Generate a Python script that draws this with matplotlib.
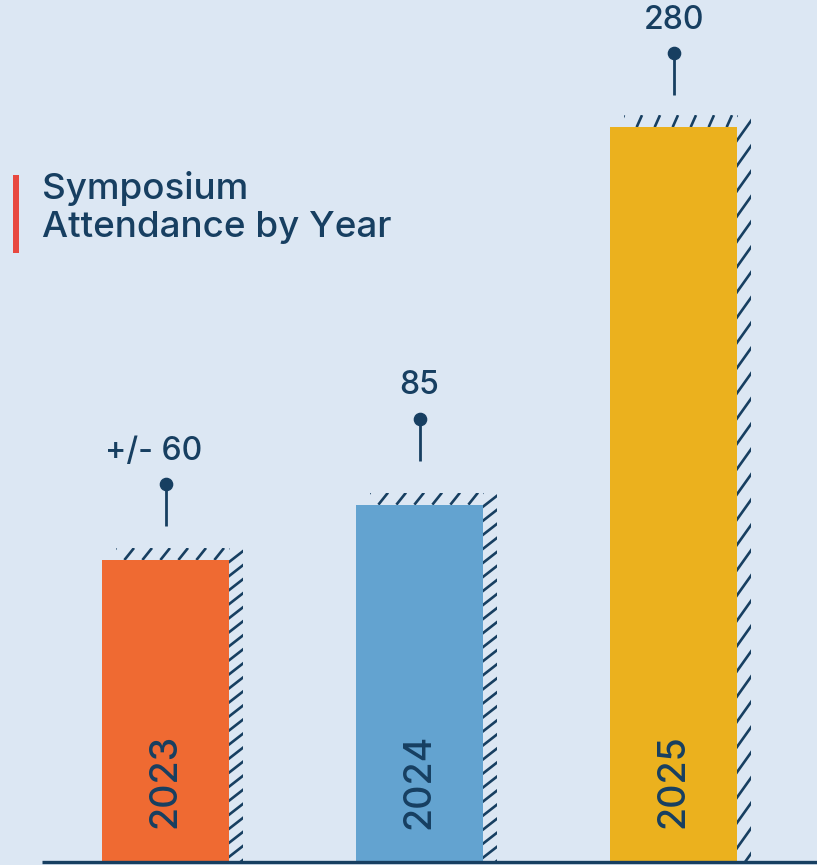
import matplotlib
matplotlib.use("Agg")
import numpy as np
import matplotlib.pyplot as plt
from matplotlib.patches import Rectangle
from matplotlib.collections import LineCollection
from matplotlib.transforms import IdentityTransform

# ---- data ----
years = ["2023", "2024", "2025"]
value_labels = ["+/- 60", "85", "280"]
# bar lengths as drawn in the picture (relative units, 2023 bar = 60)
bar_heights = [60, 71, 146]
bar_colors = ["#ef6a32", "#63a3d0", "#ebb11e"]

# ---- style ----
NAVY = "#173f61"
BG = "#dce7f3"
RED = "#e8483f"
annot_lift_px = [0, 10, -2]      # small per-label vertical nudges
label_shift_px = [-12, 0, 0]     # small per-label horizontal nudges
hatch_stretch = [1.0, 1.0, 1.8]  # vertical stretch of the shadow hatch

plt.rcParams["font.family"] = ["Inter", "DejaVu Sans"]

W, H = 817, 865
fig = plt.figure(figsize=(W / 100, H / 100), dpi=100, facecolor=BG)
ax = fig.add_axes([0, 0, 1, 1])
ax.set_facecolor(BG)

px_per_x = 254.0
px_per_y = 302.0 / 60.0
x0_px = 165.5
base_px = 3.0
ax.set_xlim(-x0_px / px_per_x, (W - x0_px) / px_per_x)
ax.set_ylim(-base_px / px_per_y, (H - base_px) / px_per_y)
ax.axis("off")

xs = list(range(len(years)))
width = 0.5
sh_dx, sh_dy = 14, 12  # shadow offset in px


def hatch_rect(x0, y0, x1, y1, spacing, slope, lw=1.9):
    """Diagonal hatch lines inside a pixel rectangle (display coords)."""
    clip = Rectangle((x0, y0), x1 - x0, y1 - y0, transform=IdentityTransform(),
                     facecolor="none", edgecolor="none")
    ax.add_patch(clip)
    h = y1 - y0
    start = x0 - h / slope - spacing
    segs = []
    for xs0 in np.arange(start, x1 + spacing, spacing):
        segs.append([(xs0, y0), (xs0 + h / slope, y1)])
    lc = LineCollection(segs, colors=NAVY, linewidths=lw,
                        transform=IdentityTransform(), zorder=1)
    ax.add_collection(lc)
    lc.set_clip_path(clip)


fig.canvas.draw()
for x, h, k in zip(xs, bar_heights, hatch_stretch):
    (lx, by), (rx, ty) = ax.transData.transform([(x - width / 2, 0), (x + width / 2, h)])
    # top strip
    hatch_rect(lx + sh_dx, ty, rx, ty + sh_dy, 18, 1.25 * k)
    # right strip
    hatch_rect(rx, by, rx + sh_dx, ty + sh_dy, 18, 0.78 * k)

ax.bar(xs, bar_heights, width=width, color=bar_colors, zorder=2, linewidth=0)

for x, h, y, lab, lift, sx in zip(xs, bar_heights, years, value_labels,
                                  annot_lift_px, label_shift_px):
    dot_y = h + (76 + lift) / px_per_y
    stem_bottom = h + (34 + lift) / px_per_y
    ax.plot([x, x], [stem_bottom, dot_y], color=NAVY, lw=2.0, zorder=3,
            solid_capstyle="butt")
    ax.plot([x], [dot_y], "o", color=NAVY, markersize=8.8, zorder=4)
    ax.text(x + sx / px_per_x, dot_y + 33 / px_per_y, lab, ha="center",
            va="center", fontsize=23, color=NAVY, zorder=4, fontweight="medium")
    ax.text(x, 81 / px_per_y, y, rotation=90, ha="center", va="center",
            fontsize=27, color=NAVY, zorder=4, fontweight="medium")

# baseline
ax.plot([(42 - x0_px) / px_per_x, (W - x0_px) / px_per_x], [0, 0],
        color=NAVY, lw=2.4, zorder=5, solid_capstyle="butt")

# title with red accent
fig.patches.append(Rectangle((13 / W, 1 - 253 / H), 6 / W, 78 / H,
                             transform=fig.transFigure, facecolor=RED,
                             edgecolor="none"))
fig.text(42 / W, 1 - 171 / H, "Symposium\nAttendance by Year", ha="left",
         va="top", fontsize=26.5, color=NAVY, linespacing=1.2,
         fontweight="medium")

fig.savefig("out.png", dpi=100, facecolor=BG)
